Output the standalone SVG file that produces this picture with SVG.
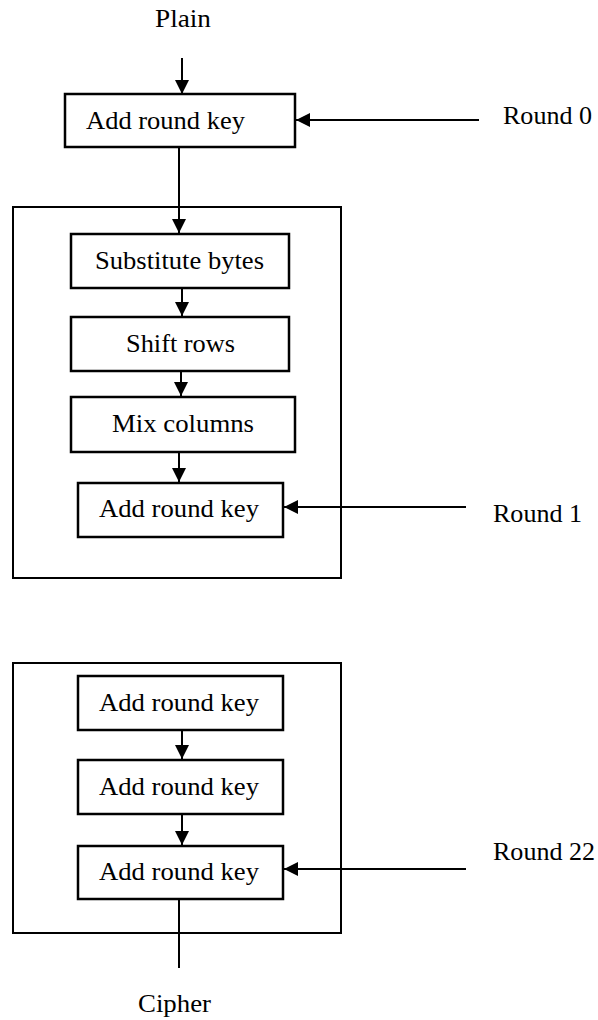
<svg xmlns="http://www.w3.org/2000/svg" width="598" height="1020" viewBox="0 0 598 1020">
<style>
.box{fill:#fff;stroke:#000;stroke-width:2.5}
.frame{fill:none;stroke:#000;stroke-width:2}
.ln{stroke:#000;stroke-width:2;fill:none}
text{font-family:"Liberation Serif","Times New Roman",serif;font-size:26px;fill:#000}
</style>
<defs>
<marker id="ah" markerUnits="userSpaceOnUse" markerWidth="15" markerHeight="15" viewBox="0 0 15 15" refX="14" refY="7.5" orient="auto">
<path d="M0,0.5 L14,7.5 L0,14.5 Z" fill="#000"/>
</marker>
</defs>
<g id="frame1"><rect class="frame" x="13" y="207" width="328" height="371"/></g>
<g id="frame2"><rect class="frame" x="13" y="663" width="328" height="270"/></g>
<g id="connectors">
<line class="ln" x1="182" y1="58" x2="182" y2="94" marker-end="url(#ah)"/>
<line class="ln" x1="479" y1="120" x2="296" y2="120" marker-end="url(#ah)"/>
<line class="ln" x1="179" y1="147" x2="179" y2="233" marker-end="url(#ah)"/>
<line class="ln" x1="182" y1="288" x2="182" y2="316" marker-end="url(#ah)"/>
<line class="ln" x1="181" y1="371" x2="181" y2="396" marker-end="url(#ah)"/>
<line class="ln" x1="179" y1="452" x2="179" y2="482" marker-end="url(#ah)"/>
<line class="ln" x1="466" y1="507" x2="284" y2="507" marker-end="url(#ah)"/>
<line class="ln" x1="182" y1="730" x2="182" y2="759" marker-end="url(#ah)"/>
<line class="ln" x1="182" y1="814" x2="182" y2="845" marker-end="url(#ah)"/>
<line class="ln" x1="466" y1="869" x2="284" y2="869" marker-end="url(#ah)"/>
<line class="ln" x1="179" y1="899" x2="179" y2="968"/>
</g>
<g id="plain"><text x="155" y="27" textLength="56" lengthAdjust="spacingAndGlyphs">Plain</text></g>
<g id="ark0"><rect class="box" x="65" y="94" width="230" height="53"/><text x="86" y="129" textLength="159" lengthAdjust="spacingAndGlyphs">Add round key</text></g>
<g id="round0"><text x="503" y="124" textLength="89" lengthAdjust="spacingAndGlyphs">Round 0</text></g>
<g id="sub"><rect class="box" x="71" y="234" width="218" height="54"/><text x="95" y="269" textLength="169" lengthAdjust="spacingAndGlyphs">Substitute bytes</text></g>
<g id="shift"><rect class="box" x="71" y="317" width="218" height="54"/><text x="126" y="352" textLength="109" lengthAdjust="spacingAndGlyphs">Shift rows</text></g>
<g id="mix"><rect class="box" x="71" y="397" width="224" height="55"/><text x="112" y="432" textLength="142" lengthAdjust="spacingAndGlyphs">Mix columns</text></g>
<g id="ark1"><rect class="box" x="78" y="483" width="205" height="54"/><text x="99" y="517" textLength="160" lengthAdjust="spacingAndGlyphs">Add round key</text></g>
<g id="round1"><text x="493" y="522" textLength="89" lengthAdjust="spacingAndGlyphs">Round 1</text></g>
<g id="arkA"><rect class="box" x="78" y="676" width="205" height="54"/><text x="99" y="711" textLength="160" lengthAdjust="spacingAndGlyphs">Add round key</text></g>
<g id="arkB"><rect class="box" x="78" y="760" width="205" height="54"/><text x="99" y="795" textLength="160" lengthAdjust="spacingAndGlyphs">Add round key</text></g>
<g id="arkC"><rect class="box" x="78" y="846" width="205" height="53"/><text x="99" y="880" textLength="160" lengthAdjust="spacingAndGlyphs">Add round key</text></g>
<g id="round22"><text x="493" y="860" textLength="102" lengthAdjust="spacingAndGlyphs">Round 22</text></g>
<g id="cipher"><text x="138" y="1012" textLength="73" lengthAdjust="spacingAndGlyphs">Cipher</text></g>
</svg>
